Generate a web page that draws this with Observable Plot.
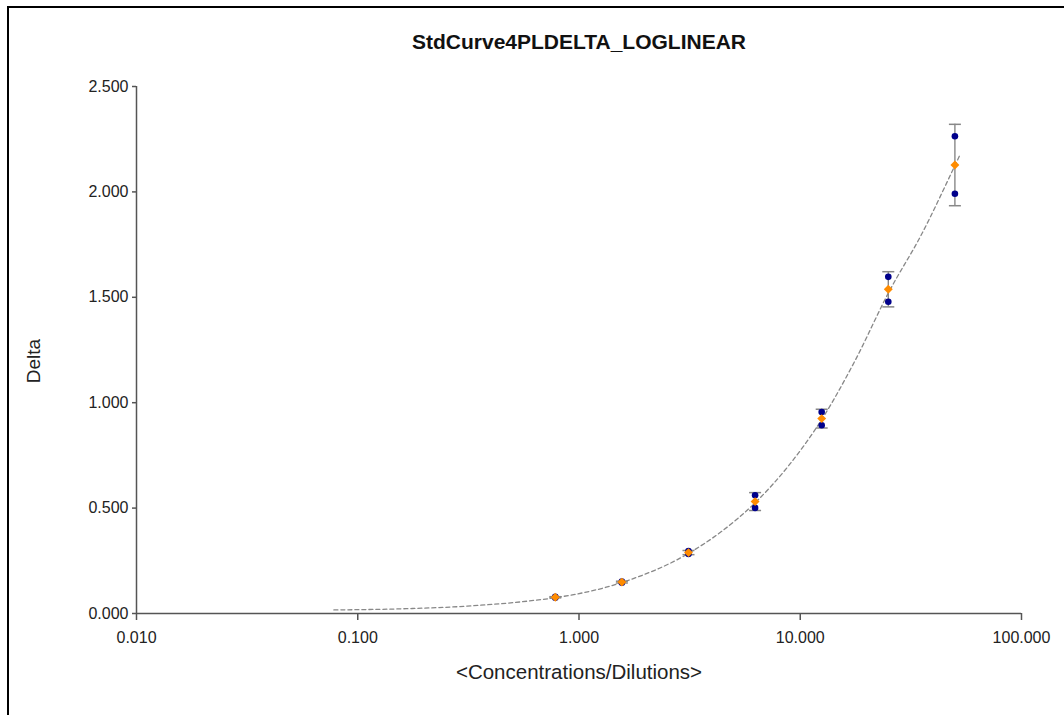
<!DOCTYPE html>
<html><head><meta charset="utf-8">
<script src="https://cdn.jsdelivr.net/npm/d3@7"></script>
<script src="https://cdn.jsdelivr.net/npm/@observablehq/plot@0.6"></script>
<style>
body{margin:0;background:#fff;}
#wrap{position:relative;width:1064px;height:715px;overflow:hidden;background:#fff;}
#border{position:absolute;left:7px;top:6px;width:1200px;height:900px;border-left:2px solid #000;border-top:2px solid #000;}
#chart{position:absolute;left:0;top:0;}
</style></head><body>
<div id="wrap"><div id="border"></div><div id="chart"></div></div>
<script>
const title = "StdCurve4PLDELTA_LOGLINEAR";
const xLabel = "<Concentrations/Dilutions>";
const yLabel = "Delta";
const concentrations = [0.78125, 1.5625, 3.125, 6.25, 12.5, 25, 50];
const replicate1 = [0.079, 0.152, 0.296, 0.561, 0.956, 1.597, 2.264];
const replicate2 = [0.075, 0.146, 0.282, 0.501, 0.893, 1.479, 1.991];
const curveX = [0.078, 0.156, 0.3125, 0.625, 0.78125, 1.5625, 3.125, 4.42, 6.25, 8.84, 12.5, 17.7, 25, 35.4, 50, 52.4];
const curveY = [0.017, 0.022, 0.035, 0.062, 0.075, 0.147, 0.285, 0.39, 0.525, 0.70, 0.92, 1.20, 1.52, 1.80, 2.125, 2.17];
const xTicks = [0.01, 0.1, 1, 10, 100];
const yTicks = [0, 0.5, 1, 1.5, 2, 2.5];

const reps = concentrations.flatMap((c, i) => [{c, v: replicate1[i]}, {c, v: replicate2[i]}]);
const standards = concentrations.map((c, i) => {
  const vals = [replicate1[i], replicate2[i]];
  const m = d3.mean(vals), sd = d3.deviation(vals);
  return {c, m, lo: m - sd, hi: m + sd};
});
const curve = curveX.map((x, i) => ({x, y: curveY[i]}));

const capSymbol = {draw(ctx, size) { const r = Math.sqrt(size / Math.PI); ctx.moveTo(-r, 0); ctx.lineTo(r, 0); }};
const font = "'Liberation Sans', Arial, sans-serif";
const axisColor = "#555";
const textColor = "#222";

const plot = Plot.plot({
  width: 1064, height: 715,
  marginLeft: 136, marginRight: 43, marginTop: 86, marginBottom: 102,
  style: {fontFamily: font, background: "transparent", overflow: "visible"},
  x: {type: "log", domain: [0.01, 100]},
  y: {domain: [0, 2.5]},
  marks: [
    Plot.ruleX([0.01], {y1: 0, y2: 2.5, stroke: axisColor, strokeWidth: 1.5}),
    Plot.ruleY([0], {x1: 0.01, x2: 100, stroke: axisColor, strokeWidth: 1.5}),
    Plot.axisX(xTicks, {tickFormat: d3.format(".3f"), tickSize: 7, tickPadding: 11, fontSize: 16, stroke: axisColor, strokeWidth: 1.5, fill: textColor, label: null}),
    Plot.axisY(yTicks, {tickFormat: d3.format(".3f"), tickSize: 4, tickPadding: 4, fontSize: 16, stroke: axisColor, strokeWidth: 1.5, fill: textColor, label: null}),
    Plot.ruleX(standards, {x: "c", y1: "lo", y2: "hi", stroke: "#888", strokeWidth: 1.4}),
    Plot.dot(standards, {x: "c", y: "lo", symbol: capSymbol, r: 6, stroke: "#888", strokeWidth: 1.5, fill: "none"}),
    Plot.dot(standards, {x: "c", y: "hi", symbol: capSymbol, r: 6, stroke: "#888", strokeWidth: 1.5, fill: "none"}),
    Plot.line(curve, {x: "x", y: "y", curve: "monotone-x", stroke: "#888", strokeWidth: 1.3, strokeDasharray: "4,3"}),
    Plot.dot(reps, {x: "c", y: "v", r: 3.3, fill: "#00008b", stroke: "none"}),
    Plot.dot(standards, {x: "c", y: "m", symbol: "diamond2", r: 4, fill: "#ff8c00", stroke: "none"}),
    Plot.text([title], {frameAnchor: "top", dy: -44, fontSize: 21, fontWeight: "bold", fill: "#111", lineAnchor: "middle"}),
    Plot.text([xLabel], {frameAnchor: "bottom", dy: 59, fontSize: 20.5, fill: textColor, lineAnchor: "middle"}),
    Plot.text([yLabel], {frameAnchor: "left", dx: -103, dy: 11, rotate: -90, fontSize: 19, fill: textColor, textAnchor: "middle", lineAnchor: "middle"})
  ]
});
document.getElementById("chart").appendChild(plot);
</script>
</body></html>
